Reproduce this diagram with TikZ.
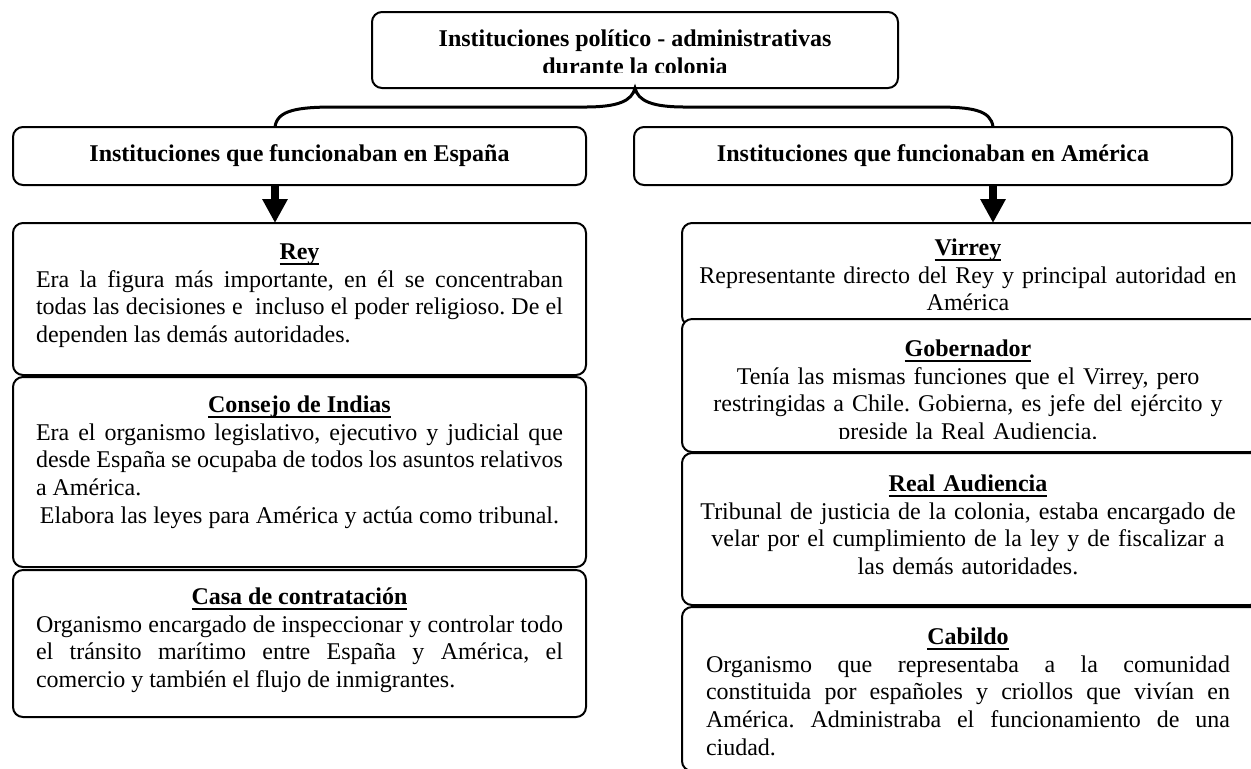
\documentclass[tikz,border=0pt]{standalone}
\usepackage{fontspec}
\setmainfont{Liberation Serif}
\usetikzlibrary{arrows.meta}
\frenchspacing
\newsavebox{\tbox}
\newcommand{\titulo}[1]{\textbf{\sbox{\tbox}{#1}\rlap{\rule[-2.6pt]{\wd\tbox}{0.9pt}}\usebox{\tbox}}}
\tikzset{
  caja/.style={draw, line width=1pt, rounded corners=5pt, fill=white, inner sep=0pt, outer sep=0pt},
  texto/.style={anchor=north, inner sep=0pt, font=\fontsize{12}{13.8}\selectfont,
    execute at begin node={\setlength{\parindent}{0pt}}},
  izq/.style={texto, text width=263.5pt, align=justify},
  der/.style={texto, text width=280pt, align=center},
  flecha/.style={line width=4pt, -{Triangle[width=12pt,length=12pt]}},
  llave/.style={line width=1.5pt}
}
\begin{document}
\begin{tikzpicture}[x=0.5pt, y=-0.5pt]
\useasboundingbox (0,0) rectangle (1251,768);
\clip (0,0) rectangle (1251,768);
\node[caja, minimum width=263pt, minimum height=38pt] (inst) at (635,50) {};
\begin{scope}
\clip (372,12) rectangle (898,72);
\node[texto, font=\fontsize{12}{13.8}\selectfont\bfseries, align=center] (instt) at (635,26.7)
  {\strut Instituciones político - administrativas\\durante la colonia};
\end{scope}
\node[caja, minimum width=286.5pt, minimum height=29pt, font=\fontsize{12}{13.8}\selectfont\bfseries] (espana) at (299.5,156) {Instituciones que funcionaban en España};
\node[caja, minimum width=299pt, minimum height=29pt, font=\fontsize{12}{13.8}\selectfont\bfseries] (america) at (933,156) {Instituciones que funcionaban en América};
\coordinate (bl) at (275,127);
\coordinate (br) at (993,127);
\draw[llave] (bl) .. controls (277,110) and (298,107) .. (335,107) -- (585,107)
  .. controls (618,107) and (632,101) .. (inst.south)
  .. controls (638,101) and (652,107) .. (685,107) -- (935,107)
  .. controls (972,107) and (991,110) .. (br);
% columna España
\node[caja, minimum width=286.5pt, minimum height=76pt] (rey) at (299.5,299) {};
\node[izq] (reyt) at (299.5,240) {{\centering\strut\titulo{Rey}\par}
  Era la figura más importante, en él se concentraban\linebreak
  todas las decisiones e \ incluso el poder religioso. De el\linebreak
  dependen las demás autoridades.};
\node[caja, minimum width=286.5pt, minimum height=95pt] (consejo) at (299.5,472) {};
\node[izq] (consejot) at (299.5,393) {{\centering\strut\titulo{Consejo de Indias}\par}
  Era el organismo legislativo, ejecutivo y judicial que\linebreak
  desde España se ocupaba de todos los asuntos relativos\linebreak
  a América.\par
  \hskip 0pt plus 1fil\relax Elabora las leyes para América y actúa como tribunal.};
\node[caja, minimum width=286.5pt, minimum height=73.5pt] (casa) at (299.5,643.5) {};
\node[izq] (casat) at (299.5,585) {{\centering\strut\titulo{Casa de contratación}\par}
  Organismo encargado de inspeccionar y controlar todo\linebreak
  el tránsito marítimo entre España y América, el\linebreak
  comercio y también el flujo de inmigrantes.};
% columna América
\node[caja, minimum width=289pt, minimum height=51.5pt] (virrey) at (971,274.5) {};
\node[der] (virreyt) at (968,236) {\strut\titulo{Virrey}\\
  Representante directo del Rey y principal autoridad en\\América};
\node[caja, minimum width=289pt, minimum height=66.5pt] (gober) at (971,385.5) {};
\begin{scope}
\clip (682,319) rectangle (1260,438);
\node[der] (gobert) at (968,337) {\strut\titulo{Gobernador}\\
  Tenía las mismas funciones que el Virrey, pero\\
  restringidas a Chile. Gobierna, es jefe del ejército y\\
  preside la Real Audiencia.};
\end{scope}
\node[caja, minimum width=289pt, minimum height=76pt] (audiencia) at (971,529) {};
\node[der] (audienciat) at (968,472) {\strut\titulo{Real Audiencia}\\
  Tribunal de justicia de la colonia, estaba encargado de\\
  velar por el cumplimiento de la ley y de fiscalizar a\\
  las demás autoridades.};
\node[caja, minimum width=289pt, minimum height=82pt] (cabildo) at (971,689) {};
\node[izq, text width=262pt] (cabildot) at (968,625) {{\centering\strut\titulo{Cabildo}\par}
  Organismo que representaba a la comunidad\linebreak
  constituida por españoles y criollos que vivían en\linebreak
  América. Administraba el funcionamiento de una\linebreak
  ciudad.};
\draw[flecha] (bl |- espana.south) -- (bl |- rey.north);
\draw[flecha] (br |- america.south) -- (br |- virrey.north);
\end{tikzpicture}
\end{document}
